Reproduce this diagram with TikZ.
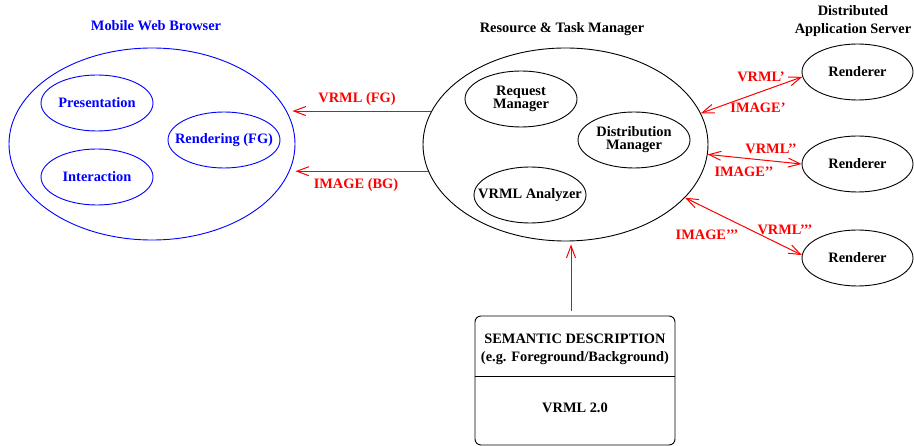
\documentclass[tikz,border=0pt]{standalone}
\usepackage{fontspec}
\setmainfont{Liberation Serif}
\usetikzlibrary{shapes.geometric,arrows.meta,calc}

\begin{document}
\begin{tikzpicture}[x=1pt,y=-1pt,
  lbl/.style={font=\bfseries\fontsize{14.4}{18}\selectfont, inner sep=0pt, align=center},
  tight/.style={font=\bfseries\fontsize{14.4}{13}\selectfont},
  oval/.style={ellipse, draw, line width=0.9pt, inner sep=0pt},
  sub/.style={oval, minimum width=112pt, minimum height=56pt},
  bluesub/.style={sub, draw=blue},
  tipA/.tip={Straight Barb[length=12pt,width=9pt]},
  arr/.style={color=red, line width=1pt, -tipA},
  dbl/.style={color=red, line width=1pt, tipA-tipA},
  rlbl/.style={lbl, text=red}]

\useasboundingbox (0,0) rectangle (914,446);

% Mobile web browser
\node[oval, draw=blue, minimum width=286pt, minimum height=192pt] (mwb) at (152,144) {};
\node[lbl, text=blue] (mwbT) at (156,26) {Mobile Web Browser};
\node[bluesub, label={[lbl, text=blue]center:Presentation}] (pres) at (97,103) {};
\node[bluesub, label={[lbl, text=blue]center:Interaction}] (inter) at (97,177) {};
\node[bluesub, label={[lbl, text=blue]center:Rendering (FG)}] (rend) at (224,140) {};

% Resource & task manager
\node[oval, minimum width=285pt, minimum height=193pt] (rtm) at (565.5,144.5) {};
\node[lbl] (rtmT) at (562,29) {Resource \& Task Manager};
\node[sub, label={[lbl, tight]center:Request\\Manager}] (req) at (521,99) {};
\node[sub, label={[lbl, tight]center:Distribution\\Manager}] (dist) at (634,140) {};
\node[sub, label={[lbl]center:VRML Analyzer}] (ana) at (530,195) {};

% Distributed application server
\node[lbl] (dasT) at (853,21) {Distributed\\Application Server};
\node[sub, minimum width=111pt, label={[lbl]center:Renderer}] (r1) at (857.5,72) {};
\node[sub, minimum width=111pt, label={[lbl]center:Renderer}] (r2) at (857.5,164) {};
\node[sub, minimum width=111pt, label={[lbl]center:Renderer}] (r3) at (857.5,258) {};

% Semantic description box
\node[draw, rounded corners=6pt, line width=0.9pt, minimum width=200pt,
      minimum height=129pt, inner sep=0pt] (desc) at (575,380.5) {};
\draw[line width=0.9pt] ([yshift=-61pt]desc.north west) -- ([yshift=-61pt]desc.north east);
\node[lbl] (sem) at (575,349) {SEMANTIC DESCRIPTION\\(e.g. Foreground/Background)};
\node[lbl] (vr) at (575,408) {VRML 2.0};

% Browser links
\draw[arr, shorten >=-3pt] (rtm.166) -- (rtm.166 -| mwb.east);
\draw[arr] (rtm.191) -- (rtm.191 -| mwb.east);
\node[rlbl] (l1) at (357,99) {VRML (FG)};
\node[rlbl] (l2) at (356,185) {IMAGE (BG)};

% Renderer links
\draw[dbl] (rtm.13) -- (r1.185);
\draw[dbl] (rtm.-4) -- (r2.west);
\draw[dbl] (rtm.-24) -- (r3.177);
\node[rlbl] (a1) at (761,77) {VRML’};
\node[rlbl] (b1) at (758,108) {IMAGE’};
\node[rlbl] (a2) at (771,149) {VRML’’};
\node[rlbl] (b2) at (744,172) {IMAGE’’};
\node[rlbl] (a3) at (785,230) {VRML’’’};
\node[rlbl] (b3) at (707,235) {IMAGE’’’};

% Description feeds the manager
\coordinate (up) at ($(desc.north)+(-4,-5)$);
\draw[arr, shorten >=3pt] (up) -- (up |- rtm.south);
\end{tikzpicture}
\end{document}
